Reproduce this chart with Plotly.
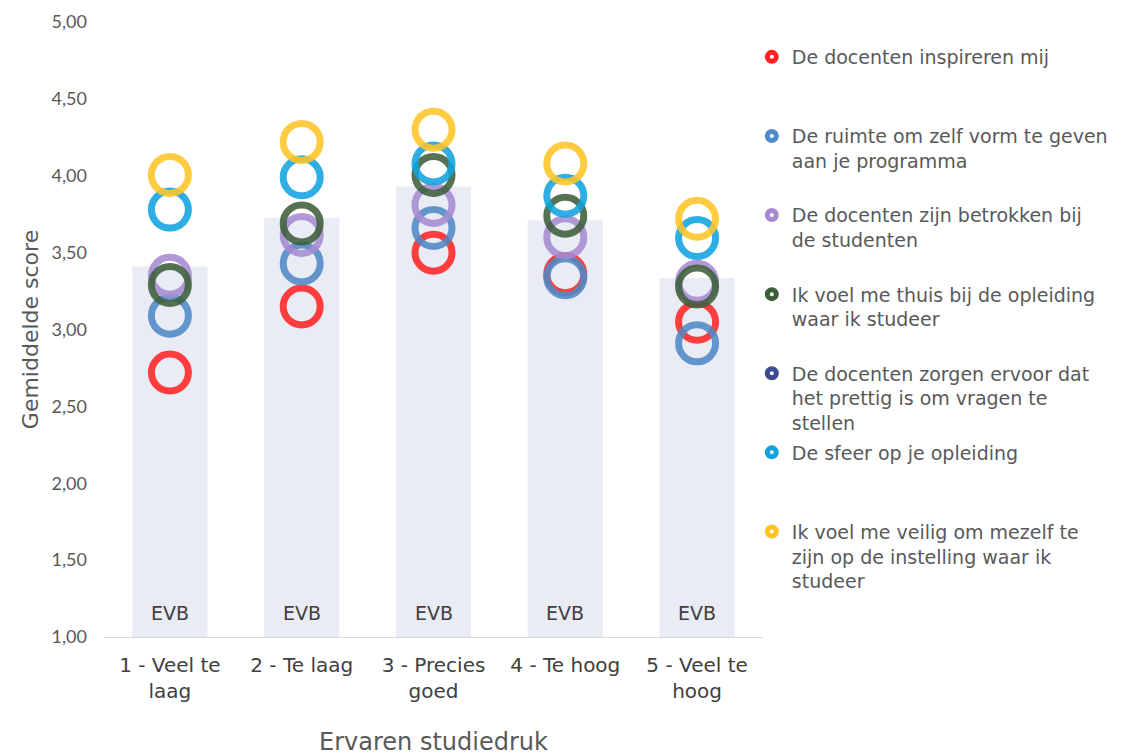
import plotly.graph_objects as go

categories = ["1 - Veel te<br>laag", "2 - Te laag", "3 - Precies<br>goed", "4 - Te hoog", "5 - Veel te<br>hoog"]
bar_values = [3.41, 3.725, 3.93, 3.71, 3.335]
bar_labels = ["EVB", "EVB", "EVB", "EVB", "EVB"]
axis_min = 1.0

series_names = [
    "De docenten inspireren mij",
    "De ruimte om zelf vorm te geven<br>aan je programma",
    "De docenten zijn betrokken bij<br>de studenten",
    "Ik voel me thuis bij de opleiding<br>waar ik studeer",
    "De docenten zorgen ervoor dat<br>het prettig is om vragen te<br>stellen",
    "De sfeer op je opleiding",
    "Ik voel me veilig om mezelf te<br>zijn op de instelling waar ik<br>studeer",
]
inspireren = [2.72, 3.15, 3.50, 3.36, 3.05]
ruimte = [3.09, 3.43, 3.66, 3.34, 2.91]
betrokken = [3.35, 3.615, 3.81, 3.60, 3.31]
thuis = [3.29, 3.69, 4.005, 3.74, 3.28]
vragen = [None, None, None, None, None]
sfeer = [3.78, 3.99, 4.08, 3.87, 3.595]
veilig = [4.005, 4.22, 4.30, 4.08, 3.72]
series_values = [inspireren, ruimte, betrokken, thuis, vragen, sfeer, veilig]
colors = ["#FF2424", "#4F89C6", "#A68AD0", "#3F5F3B", "#3C4B94", "#11A3DE", "#FFC425"]

fig = go.Figure()
# bars drawn from the axis minimum (1,00), as in the original chart
fig.add_trace(go.Bar(
    x=categories, y=[v - axis_min for v in bar_values], base=axis_min, width=0.57,
    marker=dict(color="#E9ECF4", line=dict(width=0)),
    showlegend=False, hoverinfo="skip",
))

# "EVB" labels at the foot of every bar
for cat, lab in zip(categories, bar_labels):
    fig.add_annotation(
        x=cat, y=axis_min, xref="x", yref="y", text=lab, showarrow=False,
        yanchor="middle", yshift=24,
        font=dict(family="DejaVu Sans", size=19, color="#404040"),
    )

for i, (name, vals, col) in enumerate(zip(series_names, series_values, colors)):
    fig.add_trace(go.Scatter(
        x=categories, y=vals, mode="markers", name=name,
        legendgroup=f"g{i}", showlegend=False,
        marker=dict(symbol="circle-open", size=37, color=col, opacity=0.88,
                    line=dict(width=7, color=col)),
    ))
    nlines = name.count("<br>") + 1
    label = name + "<br> " * (3 - nlines)
    fig.add_trace(go.Scatter(
        x=[categories[0]], y=[None], mode="markers", name=label,
        legendgroup=f"g{i}", showlegend=True, hoverinfo="skip",
        marker=dict(symbol="circle-open", size=9, color=col,
                    line=dict(width=5, color=col)),
    ))

fig.update_layout(
    width=1125, height=756,
    margin=dict(l=104, r=359, t=22, b=119),
    paper_bgcolor="white", plot_bgcolor="white",
    font=dict(family="DejaVu Sans", size=18, color="#595959"),
    barmode="overlay",
    xaxis=dict(
        type="category", range=[-0.5, 4.5], automargin=False,
        showline=True, linecolor="#D9D9D9", linewidth=1,
        showgrid=False, ticks="", ticklabelstandoff=10,
        tickfont=dict(family="DejaVu Sans", size=20, color="#404040"),
        title=dict(text="Ervaren studiedruk", font=dict(family="DejaVu Sans", size=24, color="#595959"), standoff=38),
    ),
    yaxis=dict(
        range=[1, 5], dtick=0.5, tickformat=".2f", showgrid=False, zeroline=False,
        showline=False, ticks="", automargin=False, ticklabelstandoff=16,
        tickfont=dict(family="Lato", size=18, color="#595959"),
        title=dict(text="Gemiddelde score", font=dict(family="DejaVu Sans", size=22, color="#595959"), standoff=6),
    ),
    separators=",.",
    legend=dict(
        x=0.983, xanchor="left", y=0.974, yanchor="top",
        font=dict(family="DejaVu Sans", size=19, color="#595959"),
        valign="top", itemsizing="trace", tracegroupgap=2,
        itemwidth=30, bgcolor="rgba(0,0,0,0)",
    ),
)

fig.write_html("out.html", config={"displayModeBar": False},
               post_script="document.body.style.margin='0';")
